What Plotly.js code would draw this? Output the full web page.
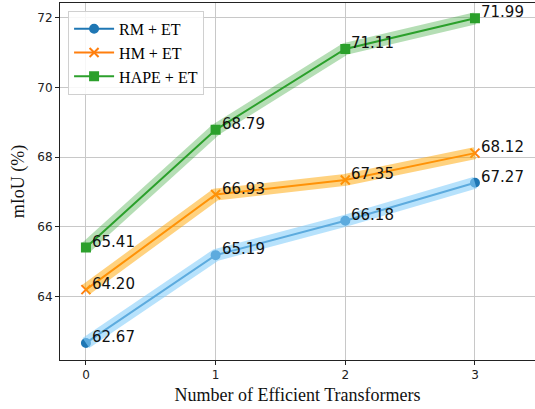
<!DOCTYPE html>
<html>
<head>
<meta charset="utf-8">
<script src="https://cdn.plot.ly/plotly-3.0.1.min.js"></script>
<style>html,body{margin:0;padding:0;background:#fff;}#chart{width:535px;height:409px;}</style>
</head>
<body>
<div id="chart"></div>
<script>
const numTransformers = [0, 1, 2, 3];
const xTickLabels = ['0', '1', '2', '3'];
const rmET = [62.67, 65.19, 66.18, 67.27];
const hmET = [64.20, 66.93, 67.35, 68.12];
const hapeET = [65.41, 68.79, 71.11, 71.99];
const seriesNames = ['RM + ET', 'HM + ET', 'HAPE + ET'];

const series = [
  {name: seriesNames[0], y: rmET, color: '#1f77b4', shade: '#87CEFA', shadeOp: 0.6, symbol: 'circle', size: 8},
  {name: seriesNames[1], y: hmET, color: '#ff7f0e', shade: '#ffa500', shadeOp: 0.5, symbol: 'x-thin-open', size: 9},
  {name: seriesNames[2], y: hapeET, color: '#2ca02c', shade: '#2ca02c', shadeOp: 0.35, symbol: 'square', size: 8}
];

const traces = [];
series.forEach(s => {
  traces.push({
    x: numTransformers, y: s.y, type: 'scatter', mode: 'lines+markers', name: s.name,
    line: {color: s.color, width: 2},
    marker: {color: s.color, symbol: s.symbol, size: s.size, line: {color: s.color, width: 2}}
  });
});
series.forEach(s => {
  traces.push({
    x: numTransformers, y: s.y, type: 'scatter', mode: 'lines', showlegend: false, hoverinfo: 'skip',
    line: {color: s.shade, width: 12}, opacity: s.shadeOp
  });
});

const annotations = [];
series.forEach(s => {
  s.y.forEach((v, i) => {
    annotations.push({
      x: numTransformers[i], y: v, xref: 'x', yref: 'y', text: v.toFixed(2), showarrow: false,
      xanchor: 'left', yanchor: 'middle', xshift: 4, yshift: 6,
      font: {family: 'DejaVu Sans', size: 15, color: '#111'}
    });
  });
});

const layout = {
  width: 535, height: 409,
  margin: {l: 60, r: 0, t: 3, b: 49},
  paper_bgcolor: '#fff', plot_bgcolor: '#fff',
  showlegend: true,
  legend: {
    x: 0.017, y: 0.978, xanchor: 'left', yanchor: 'top',
    bgcolor: 'rgba(255,255,255,0.85)', bordercolor: '#d0d0d0', borderwidth: 1,
    font: {family: 'Liberation Serif', size: 16, color: '#000'},
    itemwidth: 40,
    tracegroupgap: 0
  },
  xaxis: {
    range: [-0.2, 3.463], tickvals: numTransformers, ticktext: xTickLabels,
    showgrid: true, gridcolor: '#c8c8c8', gridwidth: 1, zeroline: false,
    showline: true, linecolor: '#222', linewidth: 1, mirror: true,
    ticks: 'outside', ticklen: 4, tickcolor: '#222',
    tickfont: {family: 'DejaVu Sans', size: 12, color: '#222'},
    title: {text: 'Number of Efficient Transformers', font: {family: 'Liberation Serif', size: 18, color: '#111'}, standoff: 6}
  },
  yaxis: {
    range: [62.18, 72.43], tickvals: [64, 66, 68, 70, 72],
    showgrid: true, gridcolor: '#c8c8c8', gridwidth: 1, zeroline: false,
    showline: true, linecolor: '#222', linewidth: 1,
    ticks: 'outside', ticklen: 4, tickcolor: '#222',
    tickfont: {family: 'DejaVu Sans', size: 12, color: '#222'},
    title: {text: 'mIoU (%)', font: {family: 'Liberation Serif', size: 18, color: '#111'}, standoff: 8}
  },
  annotations: annotations
};

Plotly.newPlot('chart', traces, layout, {displayModeBar: false, staticPlot: true});
</script>
</body>
</html>
